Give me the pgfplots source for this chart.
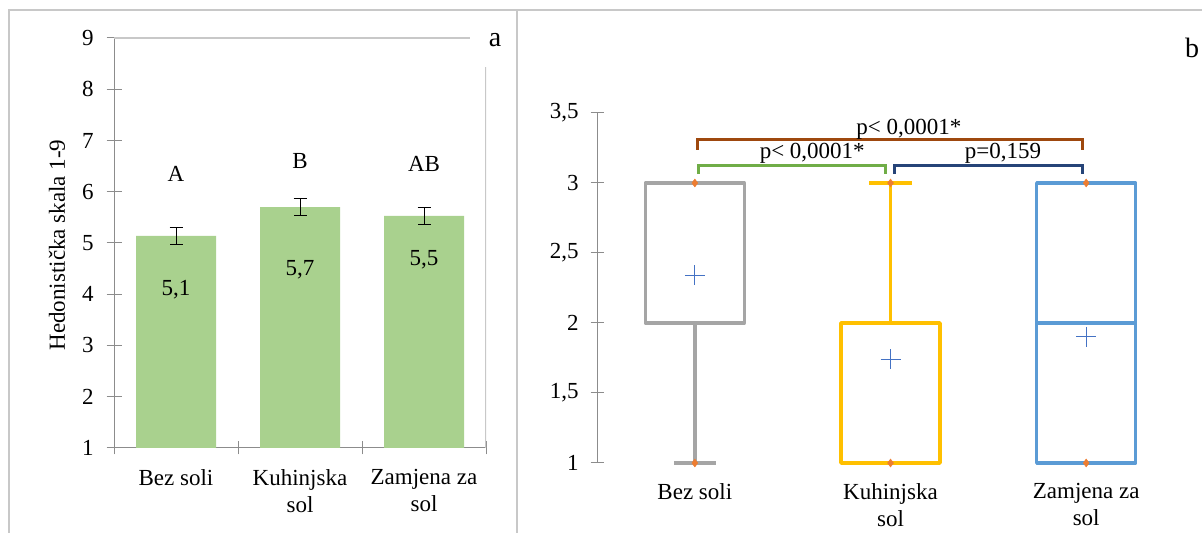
\documentclass[border=0pt]{standalone}
\usepackage{pgfplots}
\pgfplotsset{compat=1.18}
\usepgfplotslibrary{statistics}
\usepackage{fontspec}
\setmainfont{Liberation Serif}
\definecolor{bargreen}{HTML}{A9D18E}
\definecolor{framegray}{HTML}{C8C8C8}
\definecolor{axisgray}{HTML}{8C8C8C}
\definecolor{gridgray}{HTML}{C8C8C8}
\definecolor{boxgray}{HTML}{A5A5A5}
\definecolor{boxgold}{HTML}{FFC000}
\definecolor{boxblue}{HTML}{5B9BD5}
\definecolor{mkorange}{HTML}{ED7D31}
\definecolor{meanblue}{HTML}{4472C4}
\definecolor{brbrown}{HTML}{9E480E}
\definecolor{brgreen}{HTML}{70AD47}
\definecolor{brnavy}{HTML}{264478}
\newcommand\f{\fontsize{23bp}{27bp}\selectfont}
\begin{document}
\f
\begin{tikzpicture}[x=1bp,y=1bp]
\path[use as bounding box] (0,0) rectangle (1202,533);
\draw[framegray, line width=1.2bp] (9,0) -- (9,523) -- (1202,523);
\draw[framegray, line width=1.2bp] (517,0) -- (517,523);

% ---------- panel a ----------
\begin{axis}[at={(114bp,85bp)}, anchor=south west, scale only axis,
  width=372bp, height=410bp,
  xmin=0.5, xmax=3.5, ymin=1, ymax=9,
  axis x line=bottom, axis y line=left,
  axis line style={axisgray, line width=1bp, -},
  ytick={1,2,...,9},
  xtick={1,2,3},
  xticklabels={Bez soli, Kuhinjska\\sol, Zamjena za\\sol},
  minor xtick={0.5,1.5,2.5,3.5},
  tick align=center, major tick length=15bp, minor tick length=13bp,
  major x tick style={draw=none},
  minor x tick style={axisgray, line width=1bp},
  ytick style={axisgray, line width=1bp},
  tick label style={font=\f},
  xticklabel style={align=center, font=\f, yshift=-6bp},
  yticklabel style={xshift=-5bp},
  /pgf/number format/assume math mode=true,
]
\addplot[ybar, bar width=80bp, fill=bargreen, draw=none,
  error bars/.cd, y dir=both, y explicit,
  error bar style={black, line width=1bp},
  error mark options={rotate=90, black, mark size=6.5bp, line width=1bp}]
  coordinates {(1,5.14) +- (0,0.16) (2,5.70) +- (0,0.165) (3,5.53) +- (0,0.17)};
\draw[gridgray, line width=1.2bp] (axis cs:0.5,9) -- (axis cs:3.37,9);
\draw[gridgray, line width=1.2bp] (axis cs:3.5,1) -- (axis cs:3.5,8.43);
\node[font=\f] at (axis cs:1,6.35) {A};
\node[font=\f] at (axis cs:2,6.6) {B};
\node[font=\f] at (axis cs:3,6.54) {AB};
\node[font=\f] at (axis cs:1,4.08) {5,1};
\node[font=\f] at (axis cs:2,4.47) {5,7};
\node[font=\f] at (axis cs:3,4.67) {5,5};
\end{axis}
\node[rotate=90, font=\f] at (57,288) {Hedonistička skala 1-9};
\node[font=\fontsize{28bp}{30bp}\selectfont] at (495,493) {a};

% ---------- panel b ----------
\begin{axis}[at={(597bp,70bp)}, anchor=south west, scale only axis,
  width=587bp, height=350bp,
  xmin=0.5, xmax=3.5, ymin=1, ymax=3.5, clip=false,
  axis x line=bottom, axis y line=left,
  x axis line style={draw=none},
  y axis line style={axisgray, line width=1bp, -},
  ytick={1,1.5,2,2.5,3,3.5},
  yticklabels={1,{1,5},2,{2,5},3,{3,5}},
  xtick={1,2,3},
  xticklabels={Bez soli, Kuhinjska\\sol, Zamjena za\\sol},
  tick align=center, major tick length=13bp,
  major x tick style={draw=none},
  ytick style={axisgray, line width=1bp},
  tick label style={font=\f},
  xticklabel style={align=center, font=\f, yshift=-6bp},
  yticklabel style={xshift=-4bp},
  boxplot/draw direction=y,
]
\addplot[boxplot prepared={draw position=1, lower whisker=1, lower quartile=2,
  median=3, upper quartile=3, upper whisker=3, box extend=0.506, whisker extend=0.215},
  draw=boxgray, line width=3.5bp, line join=round] coordinates {};
\addplot[boxplot prepared={draw position=2, lower whisker=1, lower quartile=1,
  median=1, upper quartile=2, upper whisker=3, box extend=0.506, whisker extend=0.215},
  draw=boxgold, line width=3.5bp, line join=round] coordinates {};
\addplot[boxplot prepared={draw position=3, lower whisker=1, lower quartile=1,
  median=2, upper quartile=3, upper whisker=3, box extend=0.506, whisker extend=0.215},
  draw=boxblue, line width=3.5bp, line join=round] coordinates {};
\addplot[only marks, mark=+, mark size=10bp, mark options={meanblue, line width=1bp}]
  coordinates {(1,2.34) (2,1.74) (3,1.90)};
\addplot[only marks, mark=diamond*, mark size=4bp, color=mkorange, mark options={fill=mkorange, draw=mkorange}]
  coordinates {(1,1) (1,3) (2,1) (2,3) (3,1) (3,3)};
\draw[brbrown, line width=3bp] (axis cs:1.015,3.236) -- (axis cs:1.015,3.314) -- (axis cs:2.98,3.314) -- (axis cs:2.98,3.236);
\draw[brgreen, line width=3bp] (axis cs:1.02,3.064) -- (axis cs:1.02,3.124) -- (axis cs:1.976,3.124) -- (axis cs:1.976,3.064);
\draw[brnavy, line width=3bp] (axis cs:2.022,3.064) -- (axis cs:2.022,3.124) -- (axis cs:2.98,3.124) -- (axis cs:2.98,3.064);
\node[font=\f] at (axis cs:2.094,3.38) {p< 0,0001*};
\node[font=\f] at (axis cs:1.6,3.21) {p< 0,0001*};
\node[font=\f] at (axis cs:2.575,3.21) {p=0,159};
\end{axis}
\node[font=\fontsize{28bp}{30bp}\selectfont] at (1192,485) {b};
\end{tikzpicture}
\end{document}
